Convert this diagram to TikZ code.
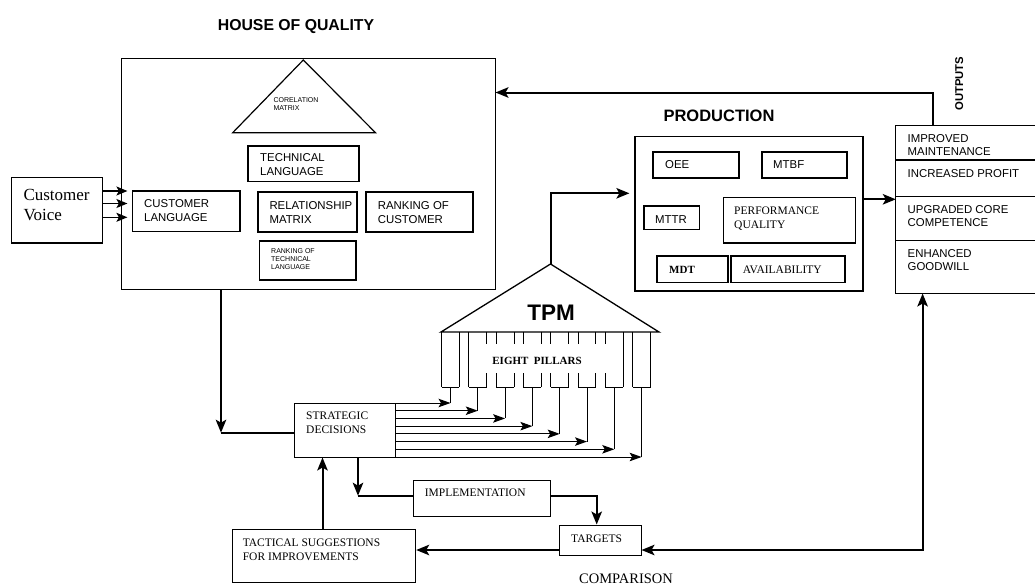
\documentclass[tikz,border=0pt]{standalone}
\usepackage{fontspec}
\setmainfont{Liberation Serif}
\setsansfont{Liberation Sans}
\usetikzlibrary{arrows.meta}
\begin{document}
\begin{tikzpicture}[x=1pt,y=-1pt,
  bx/.style={draw, line width=1.2pt, inner sep=0pt},
  boldbx/.style={draw, line width=1.8pt, inner sep=0pt},
  sftxt/.style={font=\sffamily\fontsize{11.4}{13.6}\selectfont, inner sep=0pt, anchor=base west, align=left},
  rmtxt/.style={font=\rmfamily\fontsize{11.5}{13.8}\selectfont, inner sep=0pt, anchor=base west, align=left},
  tinytxt/.style={font=\sffamily\fontsize{7}{8.2}\selectfont, inner sep=0pt, anchor=base west, align=left},
  conn/.style={line width=2pt},
  bigarr/.style={-{Stealth[length=13pt,width=10.5pt,inset=3pt]}},
  smallarr/.style={-{Stealth[length=12pt,width=8.5pt,inset=2.5pt]}},
  pil/.style={line width=1pt}]
\useasboundingbox (0,0) rectangle (1035,586);
\fill[white] (0,0) rectangle (1035,586);

% ---------------- House of quality ----------------
\node[font=\sffamily\bfseries\fontsize{15.8}{18}\selectfont, inner sep=0pt, anchor=base] (hoqt) at (296,30.7) {HOUSE OF QUALITY};
\node[bx, line width=1pt, minimum width=374pt, minimum height=230pt] (hoq) at (308,174) {};
\coordinate (corapex) at (303.3,60);
\draw[line width=1.2pt] (232.7,132.7) -- (corapex) -- (375.5,132.7) -- cycle;
\node[tinytxt] (cort) at (273.3,110.7) {CORELATION\\MATRIX};

\node[bx, minimum width=111pt, minimum height=35.8pt] (tl) at (303.5,163.9) {};
\node[sftxt] (tlt) at (260,175.5) {TECHNICAL\\LANGUAGE};

\node[bx, minimum width=91.3pt, minimum height=65.5pt] (cv) at (57.15,210.25) {};
\node[font=\rmfamily\fontsize{17}{20.7}\selectfont, inner sep=0pt, anchor=base west, align=left] (cvt) at (23.3,220.7) {Customer\\Voice};

\node[bx, minimum width=107.5pt, minimum height=40.8pt] (cl) at (186.25,211.4) {};
\node[sftxt] (clt) at (144,221) {CUSTOMER\\LANGUAGE};

\node[boldbx, minimum width=99pt, minimum height=39.5pt] (rm) at (307.5,212) {};
\node[sftxt] (rmt) at (269.3,223.3) {RELATIONSHIP\\MATRIX};
\node[boldbx, minimum width=106.7pt, minimum height=39.5pt] (rc) at (419.65,212) {};
\node[sftxt] (rct) at (377.7,223.3) {RANKING OF\\CUSTOMER};
\node[bx, minimum width=96.3pt, minimum height=39pt] (rt) at (307.85,260.5) {};
\node[tinytxt] (rtt) at (271,269.8) {RANKING OF\\TECHNICAL\\LANGUAGE};

\foreach \yy in {191,203.5,217.3}
  \draw[line width=1.3pt, -{Stealth[length=11pt,width=9pt,inset=2.5pt]}, shorten >=4.5pt] (cv.east |- 0,\yy) -- (cl.west |- 0,\yy);

% ---------------- Production ----------------
\node[font=\sffamily\bfseries\fontsize{16.5}{19}\selectfont, inner sep=0pt, anchor=base] (prodt) at (719,121.7) {PRODUCTION};
\node[bx, minimum width=228pt, minimum height=154.7pt] (prod) at (749,213.65) {};
\node[bx, line width=1.5pt, minimum width=86pt, minimum height=26.2pt] (oee) at (696,165.1) {};
\node[sftxt] (oeet) at (665,168.3) {OEE};
\node[bx, line width=1.5pt, minimum width=85pt, minimum height=26.2pt] (mtbf) at (804.5,165.1) {};
\node[sftxt] (mtbft) at (773,168.3) {MTBF};
\node[bx, line width=1.5pt, minimum width=55.5pt, minimum height=23.3pt] (mttr) at (671.75,217.85) {};
\node[sftxt] (mttrt) at (655,223.3) {MTTR};
\node[bx, line width=1.5pt, minimum width=132.2pt, minimum height=45.5pt] (pq) at (789.4,220.45) {};
\node[rmtxt] (pqt) at (734,228.5) {PERFORMANCE\\QUALITY};
\node[bx, line width=1.5pt, minimum width=71pt, minimum height=26.5pt] (mdt) at (692.5,269.25) {};
\node[rmtxt, font=\rmfamily\bfseries\fontsize{11}{13}\selectfont] (mdtt) at (669,273.3) {MDT};
\node[bx, line width=1.5pt, minimum width=114pt, minimum height=26.5pt] (av) at (788,269.25) {};
\node[rmtxt] (avt) at (742.7,273.3) {AVAILABILITY};

% ---------------- Outputs ----------------
\node[minimum width=139pt, minimum height=167.6pt, inner sep=0pt] (out) at (965.5,209.5) {};
\draw[line width=1.2pt] (out.north east) -- (out.north west) -- (out.south west) -- (out.south east);
\foreach \yy in {160,196.7,240.3}
  \draw[line width=1.2pt] (out.west |- 0,\yy) -- (out.east |- 0,\yy);
\node[sftxt] (o1) at (907.5,155.7) {IMPROVED\\MAINTENANCE};
\node[sftxt] (o2) at (907.5,177.7) {INCREASED PROFIT};
\node[sftxt] (o3) at (907.5,226.7) {UPGRADED CORE\\COMPETENCE};
\node[sftxt] (o4) at (907.5,270.7) {ENHANCED\\GOODWILL};
\node[font=\sffamily\bfseries\fontsize{11.3}{13}\selectfont, rotate=90, inner sep=0pt] (outt) at (959.2,83.7) {OUTPUTS};

% ---------------- TPM ----------------
\coordinate (apex) at (550.5,264);
\draw[line width=1.3pt] (441,332) -- (apex) -- (659,332) -- cycle;
\node[font=\sffamily\bfseries\fontsize{22.5}{26}\selectfont, inner sep=0pt, anchor=base] (tpm) at (551,320) {TPM};
\foreach \i/\cx in {1/450.5,2/477.8,3/505.1,4/532.4,5/559.7,6/587,7/614.3,8/641.6}
  \node[minimum width=17.5pt, minimum height=55pt, inner sep=0pt] (p\i) at (\cx,359.5) {};
\foreach \i in {1,...,8}
  \draw[pil] (p\i.south west) -- (p\i.south east);
\foreach \n/\a in {p1/west,p1/east,p2/west,p7/east,p8/west,p8/east}
  \draw[pil] (\n.north \a) -- (\n.south \a);
\foreach \n/\a in {p2/east,p3/west,p3/east,p4/west,p4/east,p5/west,p5/east,p6/west,p6/east,p7/west}{
  \draw[pil] (\n.north \a) -- ++(0,12);
  \draw[pil] (\n.south \a) -- ++(0,-14);
}
\node[font=\rmfamily\bfseries\fontsize{11}{12}\selectfont, inner sep=0pt, anchor=base] (ept) at (537,364.3) {EIGHT\ \ PILLARS};

% ---------------- Lower part ----------------
\node[bx, line width=1pt, minimum width=100.5pt, minimum height=54pt] (sd) at (344.75,430) {};
\node[rmtxt] (sdt) at (306,433.3) {STRATEGIC\\DECISIONS};
\node[bx, line width=1pt, minimum width=137pt, minimum height=36.7pt] (impl) at (481.5,498.35) {};
\node[rmtxt] (implt) at (424.7,496.7) {IMPLEMENTATION};
\node[bx, line width=1pt, minimum width=81.6pt, minimum height=30.7pt] (tg) at (600.2,540.35) {};
\node[rmtxt] (tgt) at (571,542.3) {TARGETS};
\node[bx, line width=1pt, minimum width=183.7pt, minimum height=53pt] (tac) at (323.85,555.8) {};
\node[rmtxt] (tact) at (242.6,560) {TACTICAL SUGGESTIONS\\FOR IMPROVEMENTS};
\node[font=\rmfamily\fontsize{14.5}{16}\selectfont, inner sep=0pt, anchor=base] (cmp) at (626,583.3) {COMPARISON};

\foreach \i in {1,...,8}{
  \pgfmathsetmacro\yy{403+7.714*(\i-1)}
  \coordinate (q\i) at (p\i.south |- 0,\yy);
  \draw[pil] (p\i.south) -- (q\i);
  \draw[pil, smallarr] (sd.east |- q\i) -- (q\i);
}

% ---------------- Connectors ----------------
\coordinate (ret) at (932.7,92.5);
\draw[conn, bigarr] (out.north -| ret) -- (ret) -- (hoq.east |- ret);
\coordinate (po) at (880,199.3);
\draw[conn, bigarr] (prod.east |- po) -- (out.west |- po);
\coordinate (k1) at (550.5,193.3);
\draw[conn, bigarr, shorten >=5pt] (apex) -- (k1) -- (prod.west |- k1);
\coordinate (k2) at (221,432.7);
\draw[conn, bigarr] (hoq.south -| k2) -- (k2);
\draw[conn] (k2) -- (sd.west |- k2);
\coordinate (k3) at (358,495.7);
\draw[conn, bigarr] (sd.south -| k3) -- (k3);
\draw[conn] (k3) -- (impl.west |- k3);
\coordinate (k4) at (596.7,496);
\draw[conn, bigarr] (impl.east |- k4) -- (k4) -- (tg.north -| k4);
\coordinate (k5) at (922.6,550);
\draw[conn, {Stealth[length=13pt,width=10.5pt,inset=3pt]}-{Stealth[length=13pt,width=10.5pt,inset=3pt]}] (out.south -| k5) -- (k5) -- (tg.east |- k5);
\draw[conn, bigarr] (tg.west |- k5) -- (tac.east |- k5);
\coordinate (k6) at (322.5,500);
\draw[conn, bigarr] (tac.north -| k6) -- (sd.south -| k6);
\end{tikzpicture}
\end{document}
